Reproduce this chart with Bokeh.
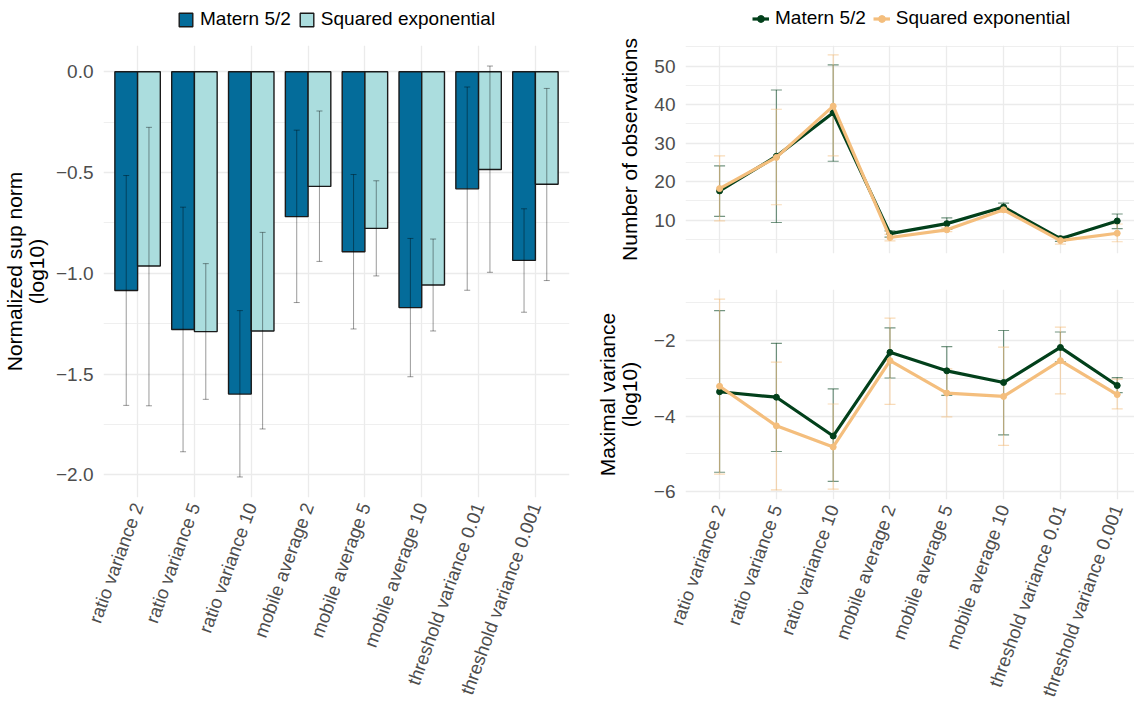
import math
from bokeh.plotting import figure
from bokeh.models import (ColumnDataSource, Whisker, TeeHead, Legend, LegendItem,
                          FixedTicker, Range1d, CustomJSTickFormatter)
from bokeh.transform import dodge
from bokeh.layouts import row, column
from bokeh.embed import file_html
from bokeh.resources import INLINE

categories = ["ratio variance 2", "ratio variance 5", "ratio variance 10",
              "mobile average 2", "mobile average 5", "mobile average 10",
              "threshold variance 0.01", "threshold variance 0.001"]
series = ["Matern 5/2", "Squared exponential"]

# Left: normalized sup norm (log10), mean with error bars
supnorm_matern = [-1.085, -1.279, -1.599, -0.719, -0.893, -1.170, -0.581, -0.936]
supnorm_matern_low = [-1.655, -1.885, -2.010, -1.145, -1.276, -1.513, -1.084, -1.193]
supnorm_matern_high = [-0.515, -0.672, -1.185, -0.290, -0.510, -0.827, -0.076, -0.680]
supnorm_se = [-0.964, -1.289, -1.286, -0.569, -0.777, -1.058, -0.485, -0.558]
supnorm_se_low = [-1.657, -1.625, -1.772, -0.941, -1.013, -1.286, -0.995, -1.036]
supnorm_se_high = [-0.276, -0.952, -0.797, -0.195, -0.541, -0.830, 0.028, -0.083]

# Right top: number of observations
nobs_matern = [17.6, 26.6, 37.9, 6.5, 9.1, 13.4, 5.2, 9.8]
nobs_matern_low = [11.0, 9.4, 25.3, 5.6, 7.6, 12.6, 4.5, 7.8]
nobs_matern_high = [24.1, 43.8, 50.3, 7.2, 10.6, 14.4, 5.8, 11.6]
nobs_se = [18.2, 26.3, 39.6, 5.5, 7.5, 12.7, 4.7, 6.6]
nobs_se_low = [9.8, 14.0, 26.7, 4.6, 7.0, 12.0, 3.8, 4.4]
nobs_se_high = [26.7, 38.8, 52.9, 6.3, 8.0, 13.4, 5.2, 9.0]

# Right bottom: maximal variance (log10)
maxvar_matern = [-3.355, -3.50, -4.53, -2.31, -2.80, -3.11, -2.18, -3.19]
maxvar_matern_low = [-5.49, -4.94, -5.73, -2.99, -3.45, -4.50, -2.56, -3.38]
maxvar_matern_high = [-1.205, -2.07, -3.28, -1.66, -2.16, -1.73, -1.77, -2.98]
maxvar_se = [-3.21, -4.26, -4.82, -2.53, -3.39, -3.48, -2.53, -3.43]
maxvar_se_low = [-5.54, -5.96, -5.94, -3.69, -4.02, -4.78, -3.41, -3.81]
maxvar_se_high = [-0.896, -2.57, -3.68, -1.40, -2.75, -2.17, -1.64, -3.02]

BAR_COLORS = ["#046C9A", "#ABDDDE"]
LINE_COLORS = ["#02401B", "#F4BE7D"]
FONT = "Liberation Sans"
TICK_COLOR = "#4D4D4D"
GRID = "#EBEBEB"

xpos = list(range(1, len(categories) + 1))
overrides = {i: c for i, c in zip(xpos, categories)}


def padded(values, extra=()):
    lo = min(min(v) for v in values)
    hi = max(max(v) for v in values)
    for e in extra:
        lo, hi = min(lo, e), max(hi, e)
    pad = 0.05 * (hi - lo)
    return lo - pad, hi + pad


def style(p, yticks, yminor, fmt_code, title_standoff, show_x=True):
    p.outline_line_color = None
    p.xaxis.ticker = FixedTicker(ticks=xpos)
    p.xaxis.major_label_overrides = overrides
    p.xgrid.ticker = FixedTicker(ticks=xpos)
    p.yaxis.ticker = FixedTicker(ticks=yticks, minor_ticks=yminor)
    p.ygrid.ticker = FixedTicker(ticks=yticks, minor_ticks=yminor)
    p.yaxis.formatter = CustomJSTickFormatter(code=fmt_code)
    for ax in p.axis:
        ax.axis_line_color = None
        ax.major_tick_line_color = None
        ax.minor_tick_line_color = None
        ax.major_tick_out = 0
        ax.major_tick_in = 0
        ax.major_label_text_font = FONT
        ax.major_label_text_color = TICK_COLOR
        ax.axis_label_text_font = FONT
        ax.axis_label_text_font_style = "normal"
        ax.axis_label_text_color = "black"
    p.yaxis.major_label_text_font_size = "19px"
    p.yaxis.axis_label_text_font_size = "21px"
    p.yaxis.axis_label_text_line_height = 0.95
    p.yaxis.major_label_standoff = 6
    p.yaxis.axis_label_standoff = title_standoff
    p.xaxis.major_label_text_font_size = "18.5px"
    p.xaxis.major_label_orientation = 70 * math.pi / 180
    p.xaxis.major_label_standoff = 6
    if not show_x:
        p.xaxis.visible = False
    p.xgrid.grid_line_color = GRID
    p.xgrid.grid_line_width = 1.3
    p.ygrid.grid_line_color = GRID
    p.ygrid.grid_line_width = 1.3
    p.ygrid.minor_grid_line_color = GRID
    p.ygrid.minor_grid_line_width = 0.8


def legend_figure(width, height):
    # key strip above a panel; its sample renderers are hidden, only the key is drawn
    lf = figure(frame_width=width, frame_height=height, x_range=Range1d(1000, 1001),
                y_range=Range1d(1000, 1001), output_backend="svg", toolbar_location=None,
                min_border_left=0, min_border_right=0,
                min_border_top=0, min_border_bottom=0)
    lf.axis.visible = False
    lf.grid.visible = False
    lf.outline_line_color = None
    return lf


def add_legend(lf, items, loc):
    lg = Legend(items=items, orientation="horizontal", location=loc,
                label_text_font=FONT, label_text_font_size="19px",
                label_text_color="black", glyph_width=17, glyph_height=17,
                spacing=7, label_standoff=6, padding=0, margin=0,
                inactive_fill_alpha=0,
                border_line_color=None, background_fill_alpha=0)
    lf.add_layout(lg)


# ---------------- Left: bar chart ----------------
lo, hi = padded([supnorm_matern_low, supnorm_se_low, supnorm_matern_high, supnorm_se_high], extra=(0,))
left = figure(frame_width=466, frame_height=452, x_range=Range1d(0.4, 8.6), y_range=Range1d(lo, hi),
              output_backend="svg", toolbar_location=None,
              min_border_left=101, min_border_right=23, min_border_top=0, min_border_bottom=219)
style(left, [0, -0.5, -1.0, -1.5, -2.0], [-0.25, -0.75, -1.25, -1.75],
      "return tick.toFixed(1).replace('-', '\u2212');", 5)
left.yaxis.axis_label = "Normalized sup norm\n(log10)"

bar_sources = [
    ColumnDataSource(dict(x=xpos, y=supnorm_matern, low=supnorm_matern_low, high=supnorm_matern_high)),
    ColumnDataSource(dict(x=xpos, y=supnorm_se, low=supnorm_se_low, high=supnorm_se_high)),
]
offsets = [-0.2, 0.2]
for src, off, col in zip(bar_sources, offsets, BAR_COLORS):
    left.vbar(x=dodge("x", off), top=0, bottom="y", width=0.4, source=src,
              fill_color=col, line_color="#1a1a1a", line_width=1.4)
for src, off in zip(bar_sources, offsets):
    w = Whisker(base=dodge("x", off), upper="high", lower="low", source=src,
                line_color="black", line_alpha=0.4, line_width=1, level="annotation",
                upper_head=TeeHead(size=6, line_color="black", line_alpha=0.4, line_width=1),
                lower_head=TeeHead(size=6, line_color="black", line_alpha=0.4, line_width=1))
    left.add_layout(w)

leg_left = legend_figure(590, 45)
key_bars = [leg_left.vbar(x="x", top=0, bottom="y", width=0.4, source=src, fill_color=col,
                          line_color="#1a1a1a", line_width=1.4, visible=False)
            for src, col in zip(bar_sources, BAR_COLORS)]
add_legend(leg_left, [LegendItem(label=s, renderers=[b]) for s, b in zip(series, key_bars)], (177, 15))


# ---------------- Right: line charts ----------------
def line_panel(frame_h, mt, mb, srcs, yticks, yminor, fmt, ylabel, show_x):
    lo, hi = padded([src.data[k] for src in srcs for k in ("low", "high")])
    p = figure(frame_width=455, frame_height=frame_h, x_range=Range1d(0.4, 8.41), y_range=Range1d(lo, hi),
               output_backend="svg", toolbar_location=None,
               min_border_left=89, min_border_right=0, min_border_top=mt, min_border_bottom=mb)
    style(p, yticks, yminor, fmt, 10, show_x)
    p.yaxis.axis_label = ylabel
    for src, col in zip(srcs, LINE_COLORS):
        w = Whisker(base="x", upper="high", lower="low", source=src, level="underlay",
                    line_color=col, line_alpha=0.55, line_width=1.2,
                    upper_head=TeeHead(size=11, line_color=col, line_alpha=0.55, line_width=1.2),
                    lower_head=TeeHead(size=11, line_color=col, line_alpha=0.55, line_width=1.2))
        p.add_layout(w)
    for src, col in zip(srcs, LINE_COLORS):
        p.line("x", "y", source=src, line_color=col, line_width=3.2)
        p.scatter("x", "y", source=src, size=6, color=col)
    return p


nobs_sources = [ColumnDataSource(dict(x=xpos, y=m, low=l, high=h)) for (m, l, h) in
                [(nobs_matern, nobs_matern_low, nobs_matern_high), (nobs_se, nobs_se_low, nobs_se_high)]]
maxvar_sources = [ColumnDataSource(dict(x=xpos, y=m, low=l, high=h)) for (m, l, h) in
                  [(maxvar_matern, maxvar_matern_low, maxvar_matern_high),
                   (maxvar_se, maxvar_se_low, maxvar_se_high)]]

top = line_panel(208, 7, 36, nobs_sources,
                 [10, 20, 30, 40, 50], [5, 15, 25, 35, 45, 55],
                 "return tick.toFixed(0);", "Number of observations", False)

bottom = line_panel(210, 0, 217, maxvar_sources,
                    [-6, -4, -2], [-5, -3, -1],
                    "return tick.toFixed(0).replace('-', '\u2212');",
                    "Maximal variance\n(log10)", True)

leg_right = legend_figure(544, 38)
key_items = []
for src, col, s in zip(nobs_sources, LINE_COLORS, series):
    ln = leg_right.line("x", "y", source=src, line_color=col, line_width=3.2, visible=False)
    pt = leg_right.scatter("x", "y", source=src, size=6, color=col, visible=False)
    key_items.append(LegendItem(label=s, renderers=[ln, pt]))
add_legend(leg_right, key_items, (160, 9))

layout = row(column(leg_left, left), column(leg_right, top, bottom))
open("out.html", "w").write(file_html(layout, INLINE))
